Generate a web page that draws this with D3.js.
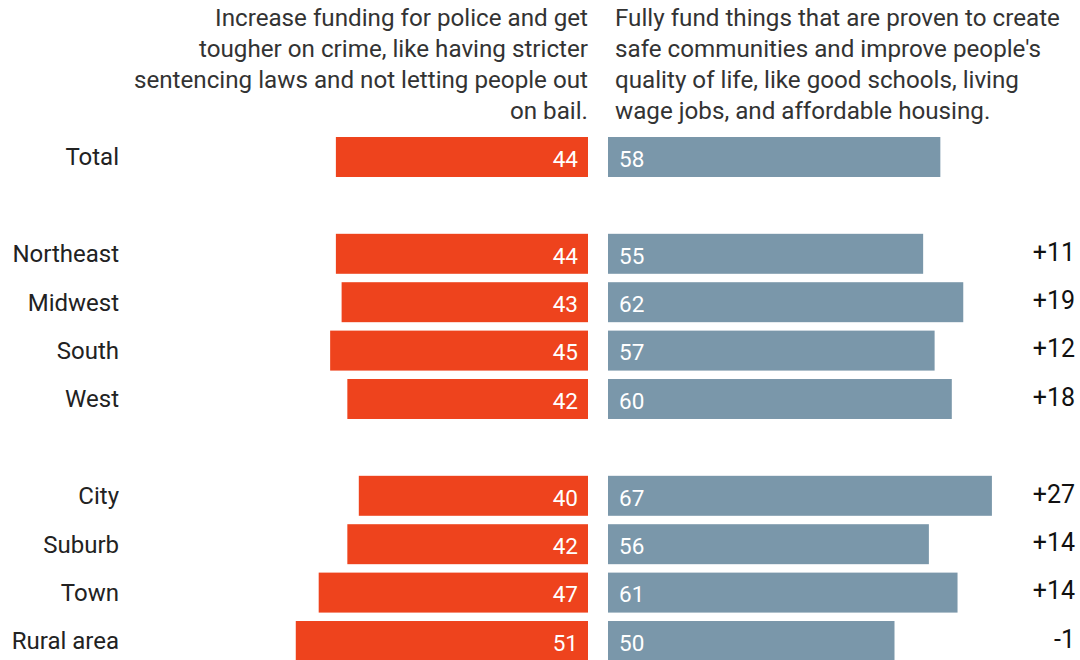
<!DOCTYPE html>
<html>
<head>
<meta charset="utf-8">
<script src="https://cdn.jsdelivr.net/npm/d3@7"></script>
<style>
  html, body { margin: 0; padding: 0; background: #fff; }
  svg { display: block; font-family: Roboto, "Noto Sans", sans-serif; }
</style>
</head>
<body>
<svg id="chart" width="1080" height="660"></svg>
<script>
/* dati */
const categories  = ["Total", "Northeast", "Midwest", "South", "West", "City", "Suburb", "Town", "Rural area"];
const toughValues = [44, 44, 43, 45, 42, 40, 42, 47, 51];
const fundValues  = [58, 55, 62, 57, 60, 67, 56, 61, 50];
const netLabels   = [null, "+11", "+19", "+12", "+18", "+27", "+14", "+14", "-1"];
const slots       = ["Total", "gap1", "Northeast", "Midwest", "South", "West", "gap2", "City", "Suburb", "Town", "Rural area"];

const headLeft  = ["Increase funding for police and get", "tougher on crime, like having stricter",
                   "sentencing laws and not letting people out", "on bail."];
const headRight = ["Fully fund things that are proven to create", "safe communities and improve people's",
                   "quality of life, like good schools, living", "wage jobs, and affordable housing."];

const ORANGE = "#ee431d";
const BLUE   = "#7a97aa";

const rows = categories.map((c, i) => ({
  cat: c, tough: toughValues[i], fund: fundValues[i], net: netLabels[i]
}));

const svg = d3.select("#chart");

/* scale */
const xL = d3.scaleLinear().domain([0, 100]).range([588, 588 - 573]);
const xR = d3.scaleLinear().domain([0, 100]).range([608, 608 + 573]);
const y  = d3.scaleBand().domain(slots).range([132.8, 665.2]).paddingInner(0.174).paddingOuter(0.087);

/* ── INTESTAZIONI ─────────────────── */
const lineH = 31;
svg.append("text")
  .attr("text-anchor", "end")
  .attr("font-size", 24.2).attr("fill", "#333")
  .selectAll("tspan").data(headLeft).join("tspan")
  .attr("x", 588).attr("y", (d, i) => 25.5 + i * lineH)
  .text(d => d);

svg.append("text")
  .attr("text-anchor", "start")
  .attr("font-size", 24.2).attr("fill", "#333")
  .selectAll("tspan").data(headRight).join("tspan")
  .attr("x", 615).attr("y", (d, i) => 25.5 + i * lineH)
  .text(d => d);

/* ── BARRE ────────────────────────── */
const g = svg.append("g");

const row = g.selectAll("g.row").data(rows).join("g")
  .attr("class", "row")
  .attr("transform", d => `translate(0,${y(d.cat)})`);

const bw = y.bandwidth();

row.append("rect")
  .attr("x", d => xL(d.tough))
  .attr("y", 0)
  .attr("width", d => xL(0) - xL(d.tough))
  .attr("height", bw)
  .attr("fill", ORANGE);

row.append("rect")
  .attr("x", xR(0))
  .attr("y", 0)
  .attr("width", d => xR(d.fund) - xR(0))
  .attr("height", bw)
  .attr("fill", BLUE);

// etichette categoria
row.append("text")
  .attr("x", 119).attr("y", bw / 2).attr("dy", "0.35em")
  .attr("text-anchor", "end")
  .attr("font-size", 24).attr("fill", "#222")
  .text(d => d.cat);

// valori dentro le barre
row.append("text")
  .attr("x", xL(0) - 10).attr("y", bw / 2 + 2).attr("dy", "0.35em")
  .attr("text-anchor", "end")
  .attr("font-size", 22.5).attr("fill", "#fff")
  .text(d => d.tough);

row.append("text")
  .attr("x", xR(0) + 11).attr("y", bw / 2 + 2).attr("dy", "0.35em")
  .attr("text-anchor", "start")
  .attr("font-size", 22.5).attr("fill", "#fff")
  .text(d => d.fund);

// differenza netta
row.filter(d => d.net !== null).append("text")
  .attr("x", 1075).attr("y", bw / 2 - 2).attr("dy", "0.35em")
  .attr("text-anchor", "end")
  .attr("font-size", 25).attr("fill", "#111")
  .text(d => d.net);
</script>
</body>
</html>
